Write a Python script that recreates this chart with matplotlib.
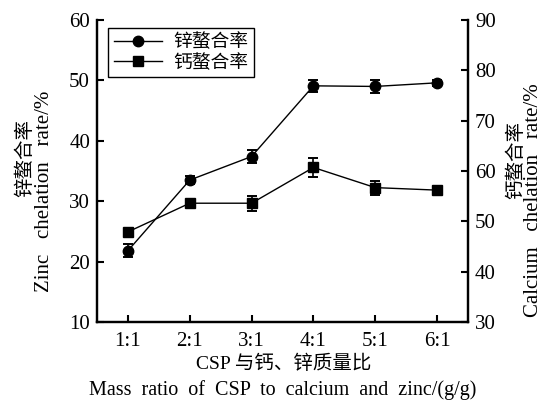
import matplotlib
matplotlib.use("Agg")
import matplotlib.pyplot as plt
from matplotlib.lines import Line2D

plt.rcParams['font.family'] = ['Liberation Serif', 'Noto Sans CJK SC', 'DejaVu Sans']

categories = ['1:1', '2:1', '3:1', '4:1', '5:1', '6:1']
zinc_rate = [21.8, 33.5, 37.4, 49.1, 49.0, 49.6]
zinc_err = [1.1, 0.6, 1.1, 1.0, 1.05, 0.5]
calcium_rate = [47.9, 53.6, 53.6, 60.7, 56.7, 56.2]
calcium_err = [0.5, 0.4, 1.5, 1.9, 1.4, 0.5]
left_ticks = [10, 20, 30, 40, 50, 60]
right_ticks = [30, 40, 50, 60, 70, 80, 90]

W, H = 554, 407
fig = plt.figure(figsize=(W / 100, H / 100), dpi=100)
L, R, T, B = 97, 468, 20, 322
ax = fig.add_axes([L / W, 1 - B / H, (R - L) / W, (B - T) / H])
ax2 = ax.twinx()

x = list(range(1, len(categories) + 1))
ax.errorbar(x, zinc_rate, yerr=zinc_err, color='black', marker='o', markersize=7.5,
            lw=1.0, capsize=3.8, elinewidth=1.2, capthick=1.4)
ax2.errorbar(x, calcium_rate, yerr=calcium_err, color='black', marker='s', markersize=6.5,
             lw=1.0, capsize=3.8, elinewidth=1.2, capthick=1.4)

ax.set_xlim(0.5, 6.5)
ax.set_ylim(10, 60)
ax2.set_ylim(30, 90)
ax.set_xticks(x)
ax.set_xticklabels(categories)
ax.set_yticks(left_ticks)
ax2.set_yticks(right_ticks)

for a in (ax, ax2):
    a.spines['top'].set_visible(False)
    for s in ('left', 'right', 'bottom'):
        a.spines[s].set_linewidth(1.6)
tfs = 15
ax.tick_params(axis='both', direction='in', length=5, width=1.5, labelsize=tfs, pad=7)
ax.tick_params(axis='y', pad=5)
ax2.tick_params(axis='y', direction='in', length=5, width=1.5, labelsize=tfs, pad=5)

h1 = Line2D([], [], color='black', marker='o', markersize=7.5, lw=1.0)
h2 = Line2D([], [], color='black', marker='s', markersize=6.5, lw=1.0)
leg = ax2.legend([h1, h2], ['锌螯合率', '钙螯合率'], loc='upper left',
                 bbox_to_anchor=((108 - L) / (R - L), 1 - (28 - T) / (B - T)),
                 borderaxespad=0, fancybox=False, edgecolor='black', framealpha=1,
                 fontsize=13.5, handlelength=2.6, labelspacing=0.15,
                 borderpad=0.3, handletextpad=0.6)
leg.get_frame().set_linewidth(1.0)

def px(xp, yp):
    return xp / W, 1 - yp / H

cfs = 14
efs = 15
fig.text(*px(25, 158), '锌螯合率', rotation=90, ha='center', va='center', fontsize=cfs)
fig.text(*px(45, 191), 'Zinc   chelation   rate/%', rotation=90, ha='center', va='center', fontsize=efs)
fig.text(*px(516, 160), '钙螯合率', rotation=90, ha='center', va='center', fontsize=cfs)
fig.text(*px(533, 200), 'Calcium   chelation   rate/%', rotation=90, ha='center', va='center', fontsize=efs)
fig.text(*px(284, 364), 'CSP 与钙、锌质量比', ha='center', va='center', fontsize=cfs)
fig.text(*px(283, 390), 'Mass  ratio  of  CSP  to  calcium  and  zinc/(g/g)', ha='center', va='center', fontsize=14.5)

fig.savefig('out.png', dpi=100)
